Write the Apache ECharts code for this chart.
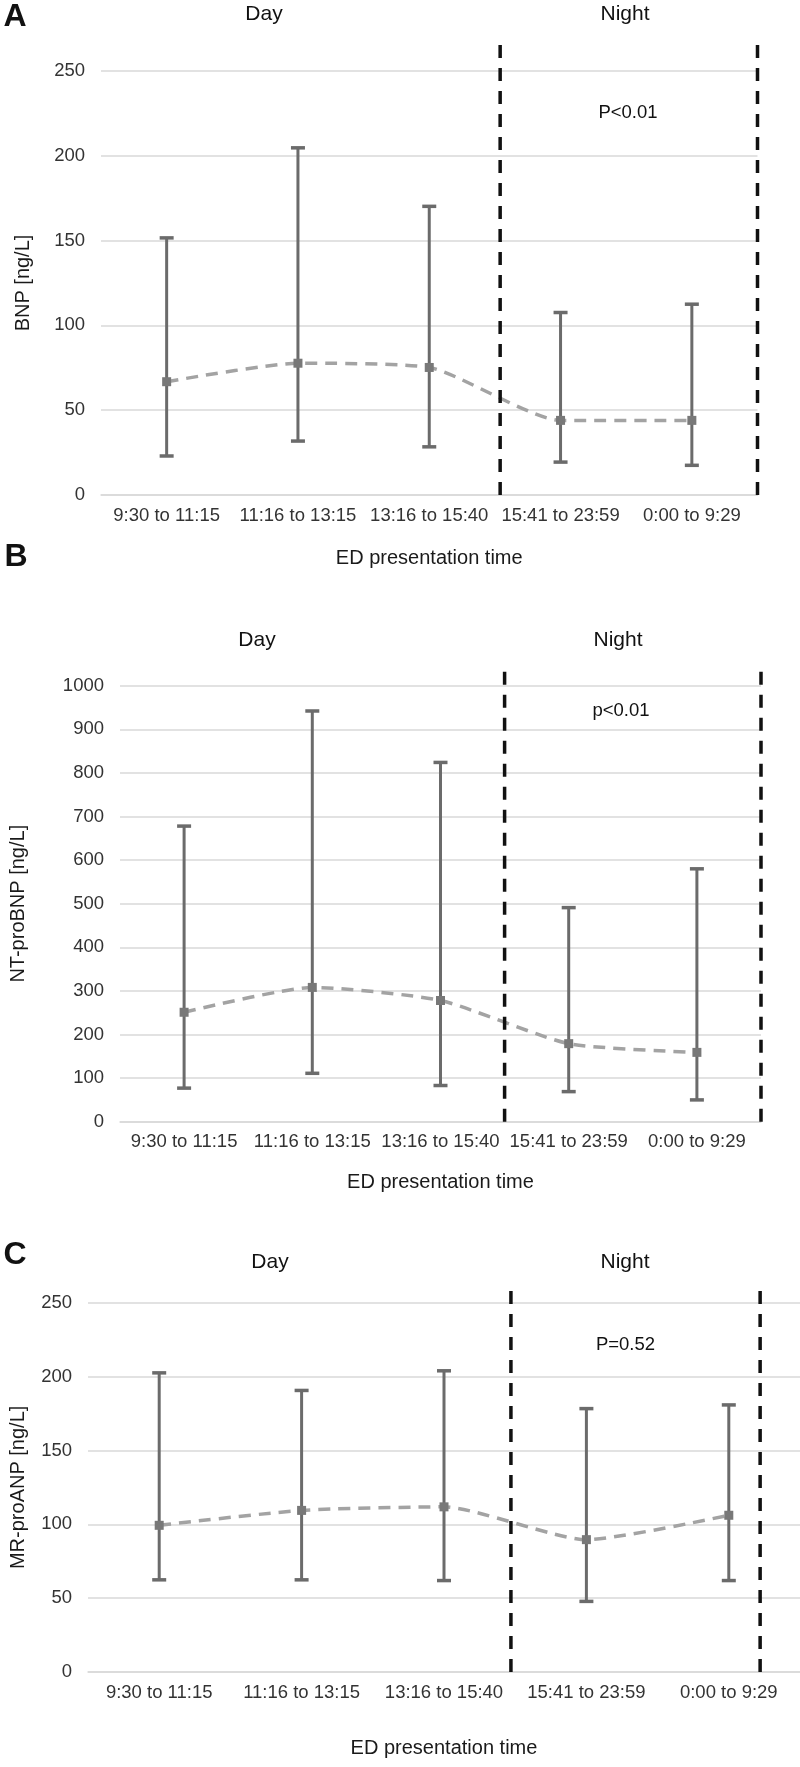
<!DOCTYPE html>
<html>
<head>
<meta charset="utf-8">
<script src="https://cdn.jsdelivr.net/npm/echarts@6/dist/echarts.min.js"></script>
<style>
html,body{margin:0;padding:0;background:#fff;}
#chart{width:800px;height:1767px;}
</style>
</head>
<body>
<div id="chart"></div>
<script>
const categories = ['9:30 to 11:15', '11:16 to 13:15', '13:16 to 15:40', '15:41 to 23:59', '0:00 to 9:29'];

const bnpMean = [66.8, 77.7, 75.2, 44, 44];
const bnpLow  = [23, 31.8, 28.4, 19.4, 17.5];
const bnpHigh = [151.6, 204.7, 170.2, 107.6, 112.5];

const ntMean = [251, 308, 278, 179, 159];
const ntLow  = [77, 111, 83, 69, 50];
const ntHigh = [678, 942, 824, 491, 580];

const mrMean = [99.3, 109.4, 111.8, 89.6, 106.1];
const mrLow  = [62.4, 62.4, 61.9, 47.8, 61.9];
const mrHigh = [202.5, 190.6, 203.9, 178.3, 180.8];

// Day / night dividers in category units, with their top value
const dividerA = [2.54, 4.5], dividerTopA = 267;
const dividerB = [2.5, 4.5],  dividerTopB = 1040;
const dividerC = [2.47, 4.22], dividerTopC = 260;

const yMaxA = 250, yStepA = 50;
const yMaxB = 1000, yStepB = 100;
const yMaxC = 250, yStepC = 50;

const panelLetters = ['A', 'B', 'C'];
const pTexts = ['P<0.01', 'p<0.01', 'P=0.52'];
const yTitles = ['BNP [ng/L]', 'NT-proBNP [ng/L]', 'MR-proANP [ng/L]'];
const xTitle = 'ED presentation time';

const FONT = '"Liberation Sans", Arial, Helvetica, sans-serif';
const GRID_COLOR = '#d9d9d9';
const BAR_COLOR = '#6b6b6b';
const LINE_COLOR = '#a3a3a3';

const panels = [
  {mean: bnpMean, low: bnpLow, high: bnpHigh, div: dividerA, divTop: dividerTopA, max: yMaxA, step: yStepA,
   grid: {left: 101, right: 42.5, top: 71, height: 424}, yGap: 68, xGap: 53},
  {mean: ntMean, low: ntLow, high: ntHigh, div: dividerB, divTop: dividerTopB, max: yMaxB, step: yStepB,
   grid: {left: 116, right: 39, top: 685.7, height: 436}, yGap: 92, xGap: 51},
  {mean: mrMean, low: mrLow, high: mrHigh, div: dividerC, divTop: dividerTopC, max: yMaxC, step: yStepC,
   grid: {left: 87.3, right: 0, top: 1302.7, height: 369.3}, yGap: 60, xGap: 66}
];

const grids = [], xAxes = [], yAxes = [], series = [];

function errorBarRender(params, api) {
  const x = api.value(0);
  const lo = api.coord([x, api.value(1)]);
  const hi = api.coord([x, api.value(2)]);
  const cw = 7;
  const st = {stroke: BAR_COLOR, lineWidth: 3};
  return {type: 'group', children: [
    {type: 'line', shape: {x1: lo[0], y1: lo[1], x2: hi[0], y2: hi[1]}, style: st},
    {type: 'line', shape: {x1: hi[0] - cw, y1: hi[1], x2: hi[0] + cw, y2: hi[1]}, style: {stroke: BAR_COLOR, lineWidth: 3.5}},
    {type: 'line', shape: {x1: lo[0] - cw, y1: lo[1], x2: lo[0] + cw, y2: lo[1]}, style: {stroke: BAR_COLOR, lineWidth: 3.5}}
  ]};
}

function dividerRender(params, api) {
  const x = api.value(0);
  const b = api.coord([x, 0]);
  const t = api.coord([x, api.value(1)]);
  return {type: 'line', shape: {x1: b[0], y1: b[1], x2: t[0], y2: t[1]},
          style: {stroke: '#111', lineWidth: 3.5, lineDash: [13, 10]}};
}

panels.forEach((p, i) => {
  grids.push(Object.assign({containLabel: false}, p.grid));
  xAxes.push({
    type: 'category', gridIndex: i, data: categories, boundaryGap: true,
    axisLine: {show: true, lineStyle: {color: GRID_COLOR, width: 1.5}},
    axisTick: {show: false},
    axisLabel: {color: '#333', fontSize: 18.5, fontFamily: FONT, margin: 11, interval: 0},
    name: xTitle, nameLocation: 'middle', nameGap: p.xGap,
    nameTextStyle: {color: '#1a1a1a', fontSize: 20, fontFamily: FONT}
  });
  xAxes.push({
    type: 'value', gridIndex: i, min: -0.5, max: 4.5, show: false
  });
  yAxes.push({
    type: 'value', gridIndex: i, min: 0, max: p.max, interval: p.step,
    axisLine: {show: false}, axisTick: {show: false},
    splitLine: {lineStyle: {color: GRID_COLOR, width: 1.5}},
    axisLabel: {color: '#333', fontSize: 18.5, fontFamily: FONT, margin: 16, formatter: v => String(v)},
    name: yTitles[i], nameLocation: 'middle', nameRotate: 90, nameGap: p.yGap,
    nameTextStyle: {color: '#1a1a1a', fontSize: 20, fontFamily: FONT}
  });
  const cx = 2 * i, vx = 2 * i + 1;
  series.push({
    type: 'custom', xAxisIndex: cx, yAxisIndex: i, renderItem: errorBarRender,
    data: categories.map((c, k) => [k, p.low[k], p.high[k]]), z: 3, silent: true
  });
  series.push({
    type: 'line', xAxisIndex: cx, yAxisIndex: i, data: p.mean, smooth: 0.2,
    symbol: 'rect', symbolSize: 9, showSymbol: true,
    itemStyle: {color: '#787878'},
    lineStyle: {color: LINE_COLOR, width: 3.5, type: [12, 8]}, z: 4, silent: true
  });
  series.push({
    type: 'custom', xAxisIndex: vx, yAxisIndex: i, renderItem: dividerRender, clip: false,
    data: p.div.map(d => [d, p.divTop]), z: 5, silent: true
  });
});

function txt(text, x, y, size, bold) {
  return {type: 'text', x: x, y: y, silent: true,
    style: {text: text, fill: '#111', font: (bold ? 'bold ' : '') + size + 'px ' + FONT,
      textAlign: 'center', textVerticalAlign: 'middle', align: 'center', verticalAlign: 'middle'}};
}

const labelPos = [
  {letter: [15, 17], day: [264, 14], night: [625, 14], p: [628, 113]},
  {letter: [16, 557], day: [257, 640], night: [618, 640], p: [621, 711]},
  {letter: [15, 1255], day: [270, 1262], night: [625, 1262], p: [625.5, 1345]}
];
const graphics = [];
labelPos.forEach((l, i) => {
  graphics.push(txt(panelLetters[i], l.letter[0], l.letter[1], 32, true));
  graphics.push(txt('Day', l.day[0], l.day[1], 21, false));
  graphics.push(txt('Night', l.night[0], l.night[1], 21, false));
  graphics.push(txt(pTexts[i], l.p[0], l.p[1], 18.5, false));
});

const chart = echarts.init(document.getElementById('chart'), null, {renderer: 'canvas', width: 800, height: 1767});
chart.setOption({
  backgroundColor: '#fff',
  animation: false,
  grid: grids, xAxis: xAxes, yAxis: yAxes, series: series,
  graphic: graphics
});
</script>
</body>
</html>
